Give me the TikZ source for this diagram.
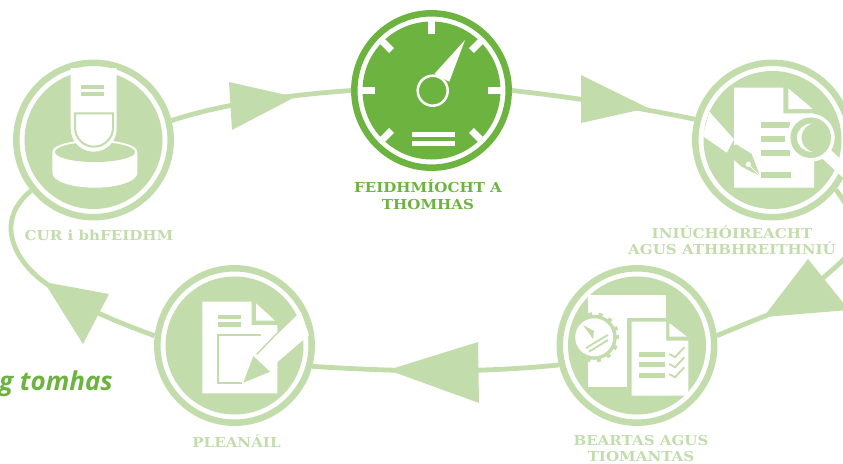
\documentclass[tikz,border=0pt]{standalone}
\usepackage{fontspec}
\setmainfont[FakeStretch=1.1]{DejaVu Serif}
\newfontfamily\slogan{Open Sans}
\usetikzlibrary{positioning}
\definecolor{palegreen}{HTML}{C3DCAC}
\definecolor{leafgreen}{HTML}{6DB33F}

\begin{document}
\begin{tikzpicture}[
    x=1pt, y=-1pt,
    node distance=6pt,
    ring/.style={circle, draw=palegreen, fill=white, line width=6.5pt, minimum size=154.4pt, inner sep=0pt},
    disc/.style={circle, fill=palegreen, minimum size=138pt, inner sep=0pt},
    caption/.style={font=\fontsize{13.7}{16.4}\selectfont\bfseries, text=palegreen, align=center, inner sep=0pt},
    link/.style={draw=palegreen, line width=4.8pt},
    head/.style={fill=palegreen},
    sheet/.style={fill=white},
    cut/.style={fill=palegreen},
    tick/.style={draw=palegreen, line width=1.8pt}
]
\useasboundingbox (0,0) rectangle (843,463);
\clip (0,0) rectangle (843,463);

% Rings
\node[ring] (install) at (93.5,140) {};
\node[ring, draw=leafgreen] (gauge) at (431.5,90.5) {};
\node[ring] (review) at (772.5,140) {};
\node[ring] (policy) at (637,345.5) {};
\node[ring] (plan) at (234.5,345.5) {};
\node[disc] (installdisc) at (install.center) {};
\node[disc, fill=leafgreen] (gaugedisc) at (gauge.center) {};
\node[disc] (reviewdisc) at (review.center) {};
\node[disc] (policydisc) at (policy.center) {};
\node[disc] (plandisc) at (plan.center) {};

% Connectors
\draw[link] (install.14) .. controls (225,103) and (290,95) .. (gauge.180);
\draw[link] (gauge.0) .. controls (580,98) and (640,108) .. (review.165);
\draw[link] (review.-38) .. controls (872,240) and (855,250) .. (823,278) .. controls (803,296) and (785,309) .. (765,316) .. controls (750,322) and (735,328) .. (policy.7);
\draw[link] (policy.194) .. controls (480,373) and (400,372) .. (plan.-15);
\draw[link] (plan.173) .. controls (125,325) and (80,308) .. (44,282) .. controls (25,268) and (11,248) .. (11,228) .. controls (11,212) and (20,200) .. (install.219);

% Arrowheads
\fill[head] (229,82) -- (295,97) -- (232,130) -- cycle;
\fill[head] (581,75) -- (648,108) -- (581,123) -- cycle;
\fill[head] (808,259) -- (849,310) -- (770,316.5) -- (765,315) -- cycle;
\fill[head] (478,342) -- (388,370) -- (479,403) -- cycle;
\fill[head] (44,282) -- (109,294) -- (83,344) -- cycle;

% Gauge icon
\foreach \ang in {0,45,-45,-90,-135,180,-225}
  \draw[white, line width=7pt] (gauge.center) ++(\ang:56.5) -- ++(\ang:13);
\fill[white] (465,40) -- (434.3,74) -- (449.3,81.7) -- cycle;
\node[circle, draw=white, fill=leafgreen, line width=2.5pt, minimum size=30pt, inner sep=0pt] (hub) at (432.7,90.7) {};
\fill[white] (412,132.3) rectangle (455,137);
\fill[white] (412,141.3) rectangle (455,146);

% Install icon
\fill[sheet] (52.3,151.7) -- (52.3,173) arc[start angle=180, end angle=0, x radius=42.5, y radius=14.7] -- (137.3,151.7) arc[start angle=0, end angle=-180, x radius=42.5, y radius=11.7] -- cycle;
\fill[cut] (95,152) ellipse[x radius=40, y radius=10];
\fill[sheet] (70.7,68) -- (116.7,68) -- (116.7,128.7) arc[start angle=0, end angle=180, radius=23] -- cycle;
\draw[palegreen, line width=2pt] (75,113.3) -- (113,113.3) -- (113,127.7) arc[start angle=0, end angle=180, radius=19] -- cycle;
\fill[cut] (81,85) rectangle (104,89.3);
\fill[cut] (81,92) rectangle (104,96);

% Review icon
\fill[sheet] (734,87.7) -- (783.3,87.7) -- (783.3,113.3) -- (814,113.3) -- (814,187.7) -- (734,187.7) -- cycle;
\fill[sheet] (788.3,88.3) -- (788.3,109) -- (812.7,109) -- cycle;
\fill[sheet] (709.3,111.7) -- (734,139.3) -- (726.7,152.7) -- (702.7,136) -- cycle;
\fill[cut] (726.7,152.7) -- (736,144.3) -- (751.7,154) -- (760,176) -- (741.7,166.7) -- (734,160) -- cycle;
\fill[white] (748.3,164.3) circle[radius=2.6];
\draw[white, line width=0.8pt] (748.3,164.3) -- (760,176);
\fill[cut] (761,122) rectangle (790,128);
\fill[cut] (761,136) rectangle (785,142);
\fill[cut] (761,150) rectangle (790,156);
\fill[cut] (761,172) rectangle (791,178);
\draw[white, line width=12pt] (822,150) -- (850,176);
\fill[white] (810.7,137.7) circle[radius=24];
\fill[cut] (810.7,137.7) circle[radius=20.3];
\fill[white] (811,137.7) circle[radius=14];
\fill[cut] (816,137.7) circle[radius=14.4];

% Policy icon
\fill[sheet] (588.3,295) rectangle (666,386.7);
\fill[cut] (627.3,318.3) rectangle (670,395.7);
\fill[sheet] (631.7,321.7) -- (666,321.7) -- (666,340.7) -- (688.3,340.7) -- (688.3,395.7) -- (631.7,395.7) -- cycle;
\fill[sheet] (669.3,323) -- (669.3,336.7) -- (687,336.7) -- cycle;
\fill[cut] (639,352.3) rectangle (665,357);
\fill[cut] (639,362) rectangle (665,366.7);
\fill[cut] (639,373.3) rectangle (665,378);
\foreach \ya in {354,364,374}
  \draw[tick] (669.3,\ya) -- ++(5.7,3.3) -- ++(9.3,-10);
\fill[cut] (594.2,337.3) circle[radius=22.5];
\foreach \ang in {0,26,...,340}
  \draw[palegreen, line width=4pt] (594.2,337.3) ++(\ang:21) -- ++(\ang:4);
\fill[white] (594.2,337.3) circle[radius=19];
\fill[cut] (583,325) -- (594,331) -- (593,339) -- cycle;
\draw[tick] (586,348) -- (607.7,335);
\draw[tick] (589,351.7) -- (608,340);

% Plan icon
\fill[sheet] (202.3,301.7) -- (251.7,301.7) -- (251.7,325) -- (277.3,325) -- (277.3,393.3) -- (202.3,393.3) -- cycle;
\fill[sheet] (256,303.3) -- (256,320.7) -- (275,320.7) -- cycle;
\fill[cut] (218,315) rectangle (241,319.3);
\fill[cut] (218,322.3) rectangle (241,326.7);
\draw[palegreen, line width=2.3pt] (260.7,335) -- (218,335) -- (218,383.3) -- (241.7,383.3);
\fill[sheet] (256.7,354.3) -- (270,368.3) -- (309,335) -- (300.7,311.7) -- cycle;
\draw[palegreen, line width=1.5pt] (256.7,354.3) -- (277.3,333);
\fill[cut] (253.3,356) -- (270,371.7) -- (243.3,382.7) -- cycle;

% Labels
\node[caption, below=9pt of install, xshift=5.5pt] (installtext) {CUR i bhFEIDHM};
\node[caption, text=leafgreen, below=9pt of gauge, xshift=-3.5pt] (gaugetext) {FEIDHMÍOCHT A\\THOMHAS};
\node[caption, below=5pt of review, xshift=-40.5pt] (reviewtext) {INIÚCHÓIREACHT\\AGUS ATHBHREITHNIÚ};
\node[caption, below=9pt of policy, xshift=4pt] (policytext) {BEARTAS AGUS\\TIOMANTAS};
\node[caption, below=9pt of plan, xshift=2pt] (plantext) {PLEANÁIL};
\node[anchor=base east, inner sep=0pt, text=leafgreen, font=\slogan\fontsize{26}{29}\selectfont\bfseries\itshape] (slogantext) at (113,390) {g tomhas};

\end{tikzpicture}
\end{document}
